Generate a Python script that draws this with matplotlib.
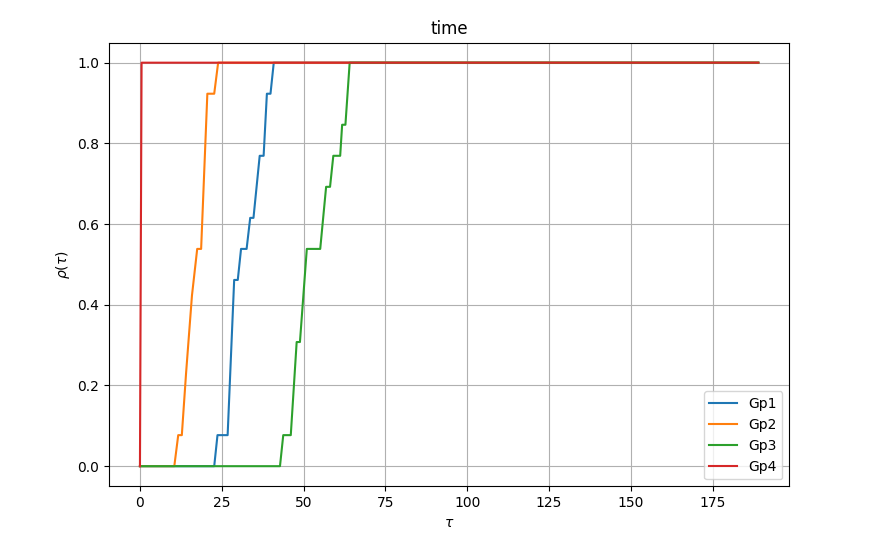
import matplotlib
matplotlib.use("Agg")
import matplotlib.pyplot as plt

n = 13.0
labels = ["Gp1", "Gp2", "Gp3", "Gp4"]
colors = ["#1f77b4", "#ff7f0e", "#2ca02c", "#d62728"]

gp1_tau = [0, 22.7, 23.7, 26.8, 28.8, 29.9, 30.9, 32.6, 33.7, 34.7, 36.6, 37.8, 38.8, 39.9, 40.9, 189]
gp1_rho = [0, 0, 1, 1, 6, 6, 7, 7, 8, 8, 10, 10, 12, 12, 13, 13]

gp2_tau = [0, 10.5, 11.7, 12.8, 14.1, 15.9, 17.5, 18.7, 20.6, 22.7, 23.9, 189]
gp2_rho = [0, 0, 1, 1, 3, 5.5, 7, 7, 12, 12, 13, 13]

gp3_tau = [0, 42.8, 43.8, 46.1, 47.9, 48.9, 51.0, 55.1, 56.9, 58.1, 59.1, 61.2, 61.8, 62.8, 64.1, 189]
gp3_rho = [0, 0, 1, 1, 4, 4, 7, 7, 9, 9, 10, 10, 11, 11, 13, 13]

gp4_tau = [0, 0.5, 189]
gp4_rho = [0, 13, 13]

series = [(gp1_tau, gp1_rho), (gp2_tau, gp2_rho), (gp3_tau, gp3_rho), (gp4_tau, gp4_rho)]

fig = plt.figure(figsize=(8.75, 5.38), dpi=100)
ax = fig.add_subplot(111)
fig.subplots_adjust(left=0.1246, right=0.902, top=0.921, bottom=0.096)

for (t, r), lab, c in zip(series, labels, colors):
    ax.plot(t, [v / n for v in r], color=c, label=lab, linewidth=1.5)

ax.set_title("time")
ax.set_xlabel(r"$\tau$")
ax.set_ylabel(r"$\rho(\tau)$")
ax.grid(True)
ax.legend(loc="lower right")
fig.savefig("out.png", dpi=100)
